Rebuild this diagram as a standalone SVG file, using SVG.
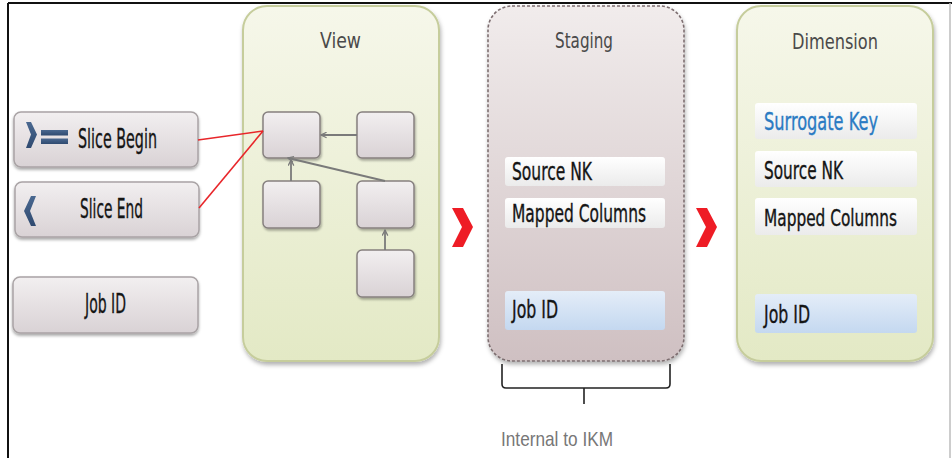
<svg xmlns="http://www.w3.org/2000/svg" width="952" height="458" viewBox="0 0 952 458">
<style>
.lbl{font-family:"Liberation Sans Narrow","DejaVu Sans Condensed","Liberation Sans",sans-serif;fill:#151515;stroke:#151515;stroke-width:0.35;}
.big{font-size:27px;}
.row{font-size:25px;}
.ttl{font-family:"Liberation Sans Narrow","DejaVu Sans Condensed","Liberation Sans",sans-serif;font-size:21px;fill:#4a4a4a;}
.btn{fill:url(#gBtn);stroke:#a9a3a5;stroke-width:1.5;filter:url(#sh);}
.ib{fill:url(#gBtn);stroke:#86807f;stroke-width:1.5;filter:url(#sh2);}
.rw{fill:url(#gRow);}
.rb{fill:url(#gBlue);}
.arr{stroke:#7a7a7a;stroke-width:1.8;fill:none;marker-end:url(#ah);}
.red{stroke:#e8262a;stroke-width:1.6;fill:none;}
.chev{fill:#ee1c25;}
.ico{fill:url(#gIco);}
</style>
<defs>
<linearGradient id="gBtn" x1="0" y1="0" x2="0" y2="1"><stop offset="0" stop-color="#f2eff0"/><stop offset="1" stop-color="#d9d2d5"/></linearGradient>
<linearGradient id="gView" x1="0" y1="0" x2="0" y2="1"><stop offset="0" stop-color="#f6f7ea"/><stop offset="1" stop-color="#e3e9c5"/></linearGradient>
<linearGradient id="gStage" x1="0" y1="0" x2="0" y2="1"><stop offset="0" stop-color="#f1ecec"/><stop offset="1" stop-color="#cfc0c2"/></linearGradient>
<linearGradient id="gRow" x1="0" y1="0" x2="0" y2="1"><stop offset="0" stop-color="#ffffff"/><stop offset="1" stop-color="#ebebeb"/></linearGradient>
<linearGradient id="gBlue" x1="0" y1="0" x2="0" y2="1"><stop offset="0" stop-color="#e4edf8"/><stop offset="1" stop-color="#c4d8f0"/></linearGradient>
<linearGradient id="gIco" x1="0" y1="0" x2="0" y2="1"><stop offset="0" stop-color="#4a6890"/><stop offset="1" stop-color="#2f4a70"/></linearGradient>
<filter id="sh" x="-10%" y="-10%" width="120%" height="140%"><feDropShadow dx="0" dy="2" stdDeviation="1.5" flood-color="#000" flood-opacity="0.35"/></filter>
<filter id="sh2" x="-10%" y="-10%" width="130%" height="140%"><feDropShadow dx="1" dy="2" stdDeviation="1.2" flood-color="#000" flood-opacity="0.3"/></filter>
<filter id="shp" x="-10%" y="-5%" width="120%" height="115%"><feDropShadow dx="1" dy="3" stdDeviation="2" flood-color="#000" flood-opacity="0.3"/></filter>
<marker id="ah" viewBox="0 0 10 10" refX="9" refY="5" markerWidth="7" markerHeight="7" orient="auto" markerUnits="userSpaceOnUse"><path d="M1,1 L9,5 L1,9" fill="none" stroke="#7a7a7a" stroke-width="1.8"/></marker>
</defs>
<rect width="952" height="458" fill="#fff"/>
<line x1="8" y1="3" x2="952" y2="3" stroke="#111" stroke-width="2"/>
<line x1="8" y1="3" x2="8" y2="458" stroke="#111" stroke-width="2"/>
<line x1="950" y1="3" x2="950" y2="458" stroke="#bdbdbd" stroke-width="1.5"/>

<g id="slice-begin">
<rect class="btn" x="14" y="112" width="184" height="55" rx="7"/>
<path class="ico" d="M26,122 L31,122 L37,134.5 L31,148 L26,148 L31,134.5 Z"/>
<rect class="ico" x="41" y="130" width="27" height="5.5"/>
<rect class="ico" x="41" y="138.5" width="27" height="5.5"/>
<text class="lbl big" x="78" y="148" textLength="79" lengthAdjust="spacingAndGlyphs">Slice Begin</text>
</g>
<g id="slice-end">
<rect class="btn" x="15" y="182" width="184" height="55" rx="7"/>
<path class="ico" d="M36,196 L31,196 L24,211 L31,226 L36,226 L30,211 Z"/>
<text class="lbl big" x="80" y="218" textLength="63" lengthAdjust="spacingAndGlyphs">Slice End</text>
</g>
<g id="job-id-src">
<rect class="btn" x="13" y="277" width="185" height="56" rx="7"/>
<text class="lbl big" x="85" y="313" textLength="41" lengthAdjust="spacingAndGlyphs">Job ID</text>
</g>

<g id="view">
<rect x="243" y="6" width="196" height="355" rx="24" fill="url(#gView)" stroke="#c6cd9c" stroke-width="2" filter="url(#shp)"/>
<text class="ttl" x="320" y="48" textLength="41" lengthAdjust="spacingAndGlyphs">View</text>
<rect id="view-a" class="ib" x="263" y="112" width="57" height="46" rx="5"/>
<rect id="view-b" class="ib" x="357" y="112" width="57" height="46" rx="5"/>
<rect id="view-c" class="ib" x="263" y="181" width="57" height="47" rx="5"/>
<rect id="view-d" class="ib" x="357" y="181" width="57" height="47" rx="5"/>
<rect id="view-e" class="ib" x="357" y="250" width="57" height="47" rx="5"/>
</g>

<g id="staging">
<rect x="488" y="6" width="196" height="355" rx="24" fill="url(#gStage)" stroke="#7d6e70" stroke-width="1.6" stroke-dasharray="3 2" filter="url(#shp)"/>
<text class="ttl" x="555" y="48" textLength="58" lengthAdjust="spacingAndGlyphs">Staging</text>
<rect class="rw" x="505" y="157" width="160" height="29" rx="3"/>
<text class="lbl row" x="512" y="180" textLength="80" lengthAdjust="spacingAndGlyphs">Source NK</text>
<rect class="rw" x="505" y="198" width="160" height="30" rx="3"/>
<text class="lbl row" x="512" y="222" textLength="134" lengthAdjust="spacingAndGlyphs">Mapped Columns</text>
<rect class="rb" x="505" y="291" width="160" height="39" rx="3"/>
<text class="lbl row" x="512" y="318" textLength="46" lengthAdjust="spacingAndGlyphs">Job ID</text>
</g>

<g id="dimension">
<rect x="737" y="6" width="196" height="355" rx="24" fill="url(#gView)" stroke="#c6cd9c" stroke-width="2" filter="url(#shp)"/>
<text class="ttl" x="792" y="49" textLength="86" lengthAdjust="spacingAndGlyphs">Dimension</text>
<rect class="rw" x="755" y="103" width="162" height="36" rx="3"/>
<text class="lbl row" x="764" y="130" textLength="114" lengthAdjust="spacingAndGlyphs" style="fill:#2b7bc3;stroke:#2b7bc3">Surrogate Key</text>
<rect class="rw" x="755" y="151" width="162" height="36" rx="3"/>
<text class="lbl row" x="764" y="179" textLength="79" lengthAdjust="spacingAndGlyphs">Source NK</text>
<rect class="rw" x="755" y="198" width="162" height="37" rx="3"/>
<text class="lbl row" x="764" y="226" textLength="133" lengthAdjust="spacingAndGlyphs" style="font-size:22.5px">Mapped Columns</text>
<rect class="rb" x="755" y="294" width="162" height="39" rx="3"/>
<text class="lbl row" x="764" y="323" textLength="46" lengthAdjust="spacingAndGlyphs">Job ID</text>
</g>

<g id="ikm-brace">
<path d="M502,364 V384 Q502,388 506,388 H666 Q670,388 670,384 V364 M584,388 V404" fill="none" stroke="#222" stroke-width="1.6"/>
<text x="501" y="446" textLength="112" lengthAdjust="spacingAndGlyphs" style="font-family:'Liberation Sans','DejaVu Sans',sans-serif;font-size:21px;fill:#777">Internal to IKM</text>
</g>

<g id="connectors">
<line class="red" x1="198" y1="140" x2="263" y2="131"/>
<line class="red" x1="199" y1="208" x2="263" y2="131"/>
<line class="arr" x1="357" y1="135" x2="321" y2="135"/>
<line class="arr" x1="291" y1="181" x2="291" y2="160"/>
<line class="arr" x1="385" y1="181" x2="288" y2="158"/>
<line class="arr" x1="385" y1="250" x2="385" y2="230"/>
<path class="chev" d="M452,208 L463,208 L473,227 L463,247 L452,247 L462,227 Z"/>
<path class="chev" d="M696,208 L707,208 L717,227 L707,247 L696,247 L706,227 Z"/>
</g>
</svg>
